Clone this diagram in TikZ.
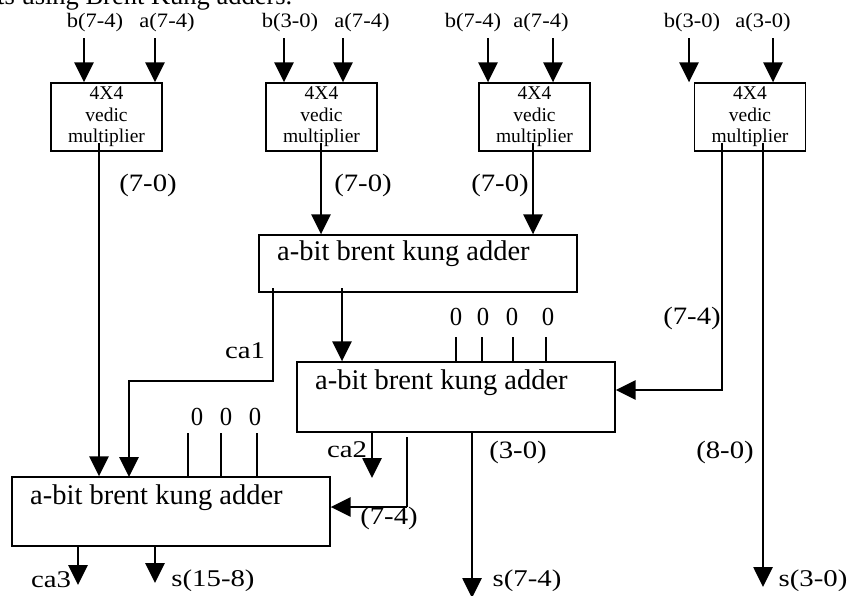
\documentclass[tikz,border=0pt]{standalone}
\usepackage{fontspec}
\setmainfont{Liberation Serif}
\newfontfamily\rngfont[FakeStretch=1.15]{Liberation Serif}
\newfontfamily\olabfont[FakeStretch=1.2]{Liberation Serif}
\newfontfamily\zerofont[FakeStretch=0.95]{Liberation Serif}
\newfontfamily\inlabfont[FakeStretch=1.1]{Liberation Serif}
\usetikzlibrary{arrows.meta,calc}
\tikzset{
  arr/.style={line width=2.7pt,-{Triangle[length=20pt,width=19pt]}},
  wire/.style={line width=2.7pt},
  thin wire/.style={line width=1.8pt},
  vbox/.style={draw,line width=1.3pt,minimum width=111pt,minimum height=68pt,inner sep=0pt},
  addbox/.style={draw,line width=1.3pt,minimum width=318pt,inner sep=0pt},
  inlab/.style={font=\inlabfont\fontsize{20.5}{22}\selectfont,inner sep=0pt},
  boxtxt/.style={font=\fontsize{19.5}{21.5}\selectfont,align=center,inner sep=0pt},
  rng/.style={font=\rngfont\fontsize{25}{27}\selectfont,inner sep=0pt},
  addtxt/.style={font=\fontsize{28.5}{30}\selectfont,inner sep=0pt,anchor=west},
  zlab/.style={font=\zerofont\fontsize{26}{28}\selectfont,inner sep=0pt,anchor=base},
  olab/.style={font=\olabfont\fontsize{24}{26}\selectfont,inner sep=0pt,anchor=base},
}
\begin{document}
\begin{tikzpicture}[x=1pt,y=-1pt]
\useasboundingbox (0,0) rectangle (853,595);
% caption fragment cut off at the top
\node[font=\fontsize{26.5}{28}\selectfont,inner sep=0pt,anchor=base west] (cap) at (-3,4) {ts using Brent Kung adders.};

% multipliers
\node[vbox] (m1) at (106.5,117) {};
\node[vbox] (m2) at (321.5,117) {};
\node[vbox] (m3) at (534.5,117) {};
\node[vbox] (m4) at (750,117) {};
\foreach \m in {m1,m2,m3,m4}{
  \node[boxtxt] (\m t) at (\m) {4X4\\vedic\\multiplier};
}

% input labels
\node[inlab] (b1) at (95,23) {b(7-4)};
\node[inlab] (a1) at (167,23) {a(7-4)};
\node[inlab] (b2) at (290,23) {b(3-0)};
\node[inlab] (a2) at (362,23) {a(7-4)};
\node[inlab] (b3) at (473,23) {b(7-4)};
\node[inlab] (a3) at (541,23) {a(7-4)};
\node[inlab] (b4) at (692,23) {b(3-0)};
\node[inlab] (a4) at (763,23) {a(3-0)};

% input arrow starts
\coordinate (ib1) at (84,38);
\coordinate (ia1) at (155,38);
\coordinate (ib2) at (284,38);
\coordinate (ia2) at (343,38);
\coordinate (ib3) at (488,38);
\coordinate (ia3) at (553,38);
\coordinate (ib4) at (689,38);
\coordinate (ia4) at (773,38);
\draw[arr] (ib1) -- (ib1 |- m1.north);
\draw[arr] (ia1) -- (ia1 |- m1.north);
\draw[arr] (ib2) -- (ib2 |- m2.north);
\draw[arr] (ia2) -- (ia2 |- m2.north);
\draw[arr] (ib3) -- (ib3 |- m3.north);
\draw[arr] (ia3) -- (ia3 |- m3.north);
\draw[arr] (ib4) -- (ib4 |- m4.north);
\draw[arr] (ia4) -- (ia4 |- m4.north);

% adders
\node[addbox,minimum height=57pt] (ad1) at (418,263.5) {};
\node[addbox,minimum height=70pt] (ad2) at (456,397) {};
\node[addbox,minimum height=69pt] (ad3) at (171,511.5) {};
\node[addtxt] (ad1t) at (277,254) {a-bit brent kung adder};
\node[addtxt] (ad2t) at (315,383) {a-bit brent kung adder};
\node[addtxt] (ad3t) at (30,498) {a-bit brent kung adder};

% multiplier outputs
\coordinate (o1) at (99,143);
\coordinate (o2) at (321,143);
\coordinate (o3) at (533,143);
\coordinate (o4a) at (722,143);
\coordinate (o4b) at (763,143);
\draw[arr] (o1) -- (o1 |- ad3.north);
\draw[arr] (o2) -- (o2 |- ad1.north);
\draw[arr] (o3) -- (o3 |- ad1.north);
\draw[arr] (o4a) -- (722,390) -- (ad2.east |- 0,390);
\coordinate (s30) at (763,587);
\draw[arr] (o4b) -- (s30);

\node[rng] (r1) at (148,185) {(7-0)};
\node[rng] (r2) at (363,185) {(7-0)};
\node[rng] (r3) at (500,185) {(7-0)};
\node[rng] (r4) at (692,318) {(7-4)};

% adder 1 outputs
\coordinate (c1s) at (273,288);
\draw[arr] (c1s) -- (273,381) -- (129,381) -- (129 ,477);
\node[olab] (ca1) at (245,358) {ca1};
\coordinate (s1s) at (342,288);
\draw[arr] (s1s) -- (s1s |- ad2.north);

% zeros on adder 2
\foreach \x/\lx [count=\i] in {456/456,482/483,513/512,546/548}{
  \node[zlab] (z2\i) at (\lx,325) {0};
  \coordinate (z2s\i) at (\x,337);
  \draw[thin wire] (z2s\i) -- (z2s\i |- ad2.north);
}
% zeros on adder 3
\foreach \x/\lx [count=\i] in {188/197,221/226,257/255}{
  \node[zlab] (z3\i) at (\lx,425) {0};
  \coordinate (z3s\i) at (\x,433);
  \draw[thin wire] (z3s\i) -- (z3s\i |- ad3.north);
}

% adder 2 outputs
\coordinate (c2s) at (372,432);
\coordinate (c2e) at (372,478);
\draw[arr] (c2s) -- (c2e);
\node[olab] (ca2) at (347,457) {ca2};
\coordinate (h2s) at (407,437);
\draw[wire,line width=1.8pt] (h2s) -- (407,507);
\draw[arr] (407,507) -- (ad3.east |- 0,507);
\node[rng] (r5) at (389,518) {(7-4)};
\coordinate (s74s) at (472,432);
\coordinate (s74e) at (472,598);
\draw[arr] (s74s) -- (s74e);
\node[rng] (r6) at (518,452) {(3-0)};
\node[rng] (r7) at (725,452) {(8-0)};

% adder 3 outputs
\coordinate (c3s) at (78,546);
\coordinate (c3e) at (78,585);
\draw[arr] (c3s) -- (c3e);
\coordinate (s158s) at (155,546);
\coordinate (s158e) at (155,583);
\draw[arr] (s158s) -- (s158e);

\node[olab] (ca3) at (51,587) {ca3};
\node[olab] (s158) at (213,586) {s(15-8)};
\node[olab] (s74) at (527,586) {s(7-4)};
\node[olab] (s30l) at (813,586) {s(3-0)};
\end{tikzpicture}
\end{document}
